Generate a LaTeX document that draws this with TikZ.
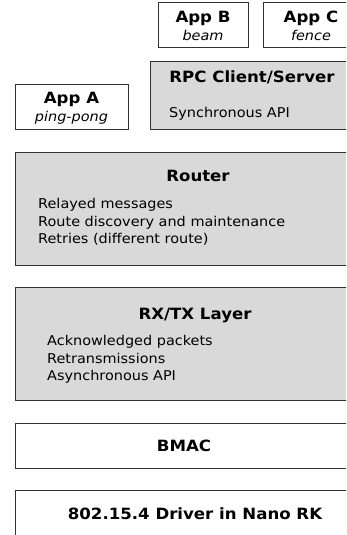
\documentclass[tikz,border=0pt]{standalone}
\usepackage{fontspec}
\setmainfont{DejaVu Sans}[FakeStretch=1.07]
\usepackage{xcolor}
\usepackage{tikz}
\usetikzlibrary{positioning}
\definecolor{layergray}{RGB}{217, 217, 217}
\definecolor{edgegray}{RGB}{50, 50, 50}

\tikzset{
  layerbox/.style={draw=edgegray, line width=1pt, fill=layergray,
    rectangle, anchor=north west, inner sep=0pt, outer sep=0pt},
  appbox/.style={layerbox, fill=white},
  titletext/.style={font=\fontsize{15.5}{18}\selectfont\bfseries,
    anchor=base, inner sep=0pt},
  subtext/.style={font=\fontsize{13.5}{17.5}\selectfont\itshape,
    anchor=base, inner sep=0pt},
  linetext/.style={font=\fontsize{13.5}{17.5}\selectfont,
    anchor=base west, inner sep=0pt}
}

\begin{document}
\begin{tikzpicture}[x=1pt, y=-1pt]
  \useasboundingbox (0,0) rectangle (346,535);
  \clip (0,0) rectangle (346,535);

  % applications on top
  \node[appbox, minimum width=90pt, minimum height=45pt] (appB) at (158,3) {};
  \node[titletext] (appBname) at (203,23) {App B};
  \node[subtext]   (appBtag)  at (203,41) {beam};

  \node[appbox, minimum width=96pt, minimum height=45pt] (appC) at (263,3) {};
  \node[titletext] (appCname) at (311,23) {App C};
  \node[subtext]   (appCtag)  at (311,41) {fence};

  \node[appbox, minimum width=113pt, minimum height=45pt] (appA) at (15,84) {};
  \node[titletext] (appAname) at (71.5,103) {App A};
  \node[subtext]   (appAtag)  at (71.5,121) {ping-pong};

  % rpc layer
  \node[layerbox, minimum width=204pt, minimum height=67pt] (rpc) at (150,62) {};
  \node[titletext] (rpcname) at (252,82) {RPC Client/Server};
  \node[linetext]  (rpcapi)  at (169,117) {Synchronous API};

  % router
  \node[layerbox, minimum width=366pt, minimum height=113pt] (router) at (15,152) {};
  \node[titletext] (routername) at (198,181) {Router};
  \node[linetext]  (routerA) at (38,208) {Relayed messages};
  \node[linetext]  (routerB) at (38,226) {Route discovery and maintenance};
  \node[linetext]  (routerC) at (38,243) {Retries (different route)};

  % rx/tx
  \node[layerbox, minimum width=360pt, minimum height=113pt] (rxtx) at (15,287) {};
  \node[titletext] (rxtxname) at (195,319) {RX/TX Layer};
  \node[linetext]  (rxtxA) at (47,345.5) {Acknowledged packets};
  \node[linetext]  (rxtxB) at (47,363) {Retransmissions};
  \node[linetext]  (rxtxC) at (47,380.5) {Asynchronous API};

  % mac and driver
  \node[appbox, minimum width=338pt, minimum height=45pt] (bmac) at (15,423) {};
  \node[titletext] (bmacname) at (184,451) {BMAC};

  \node[appbox, minimum width=360pt, minimum height=70pt] (driver) at (15,490) {};
  \node[titletext] (drivername) at (195,519) {802.15.4 Driver in Nano RK};
\end{tikzpicture}
\end{document}
